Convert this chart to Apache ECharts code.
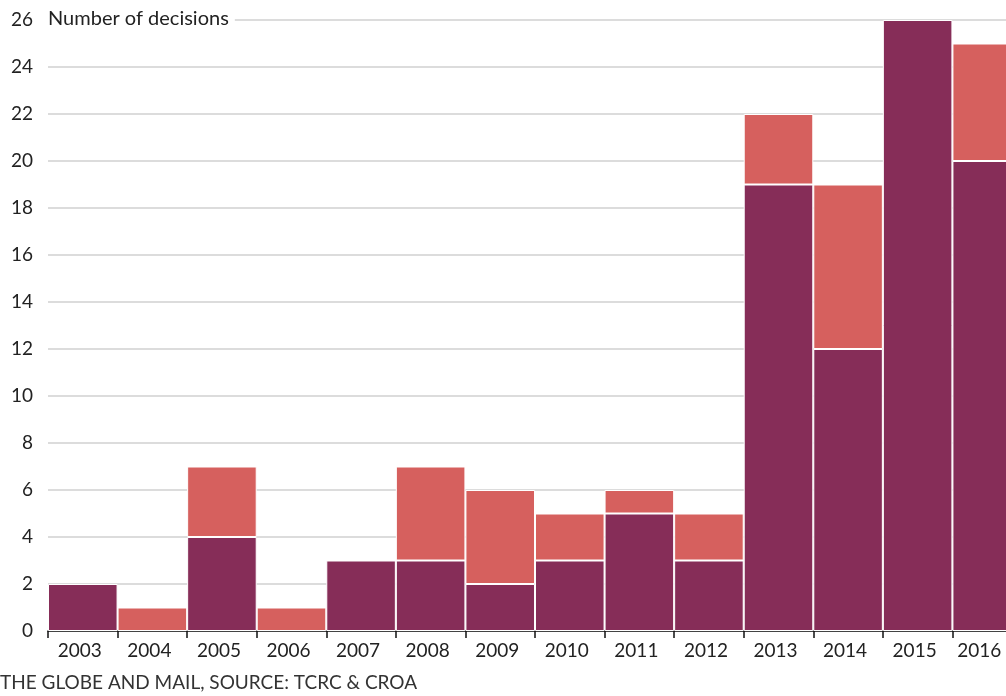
<!DOCTYPE html>
<html><head><meta charset="utf-8">
<script src="https://cdn.jsdelivr.net/npm/echarts@6/dist/echarts.min.js"></script>
<style>html,body{margin:0;padding:0;background:#fff}#c{width:1006px;height:696px}</style>
</head><body><div id="c"></div>
<script>
const years = ['2003','2004','2005','2006','2007','2008','2009','2010','2011','2012','2013','2014','2015','2016'];
const darkValues = [2,0,4,0,3,3,2,3,5,3,19,12,26,20];
const coralValues = [0,1,3,1,0,4,4,2,1,2,3,7,0,5];
const yTicks = {min:0, max:26, interval:2};
const yTitle = 'Number of decisions';
const footer = 'THE GLOBE AND MAIL, SOURCE: TCRC & CROA';

const FONT = 'Lato';
const chart = echarts.init(document.getElementById('c'), null, {renderer:'canvas'});
const nz = a => a.map(v => v === 0 ? '-' : v);
const lastIdx = years.length - 1;
chart.setOption({
  animation:false,
  textStyle:{fontFamily:FONT},
  grid:{left:48, width:974, top:20, bottom:65, containLabel:false, outerBoundsMode:'none'},
  xAxis:{type:'category', data:years, boundaryGap:true,
    axisLine:{lineStyle:{color:'#111', width:1.5}},
    axisTick:{show:true, interval:0, length:7, lineStyle:{color:'#111', width:1.5}},
    axisLabel:{interval:0, hideOverlap:false, color:'#222', fontSize:19, fontFamily:FONT, margin:10,
      formatter:(v,i)=> i===lastIdx ? '{e|'+v+'}' : '{n|'+v+'}',
      rich:{n:{fontSize:19, fontFamily:FONT, color:'#222', padding:[0,6,0,0]},
            e:{fontSize:19, fontFamily:FONT, color:'#222', padding:[0,16,0,0]}}}},
  yAxis:{type:'value', min:yTicks.min, max:yTicks.max, interval:yTicks.interval,
    axisLine:{show:false}, axisTick:{show:false},
    axisLabel:{color:'#222', fontSize:19, fontFamily:FONT, margin:15},
    splitLine:{lineStyle:{color:'#d0d0d0', width:1.5}}},
  series:[
    {type:'bar', stack:'a', data:nz(darkValues), barCategoryGap:'0%',
      itemStyle:{color:'#862D58', borderColor:'#fff', borderWidth:1}},
    {type:'bar', stack:'a', data:nz(coralValues), barCategoryGap:'0%',
      itemStyle:{color:'#D6605E', borderColor:'#fff', borderWidth:1}}
  ],
  graphic:[
    {type:'text', left:44, top:8, z:100,
      style:{text:yTitle, fill:'#222', font:'20px "'+FONT+'"', backgroundColor:'#fff', padding:[1,6,1,4]}},
    {type:'text', left:0, top:673,
      style:{text:footer, fill:'#333', font:'19px "'+FONT+'"'}}
  ]
});
</script></body></html>
